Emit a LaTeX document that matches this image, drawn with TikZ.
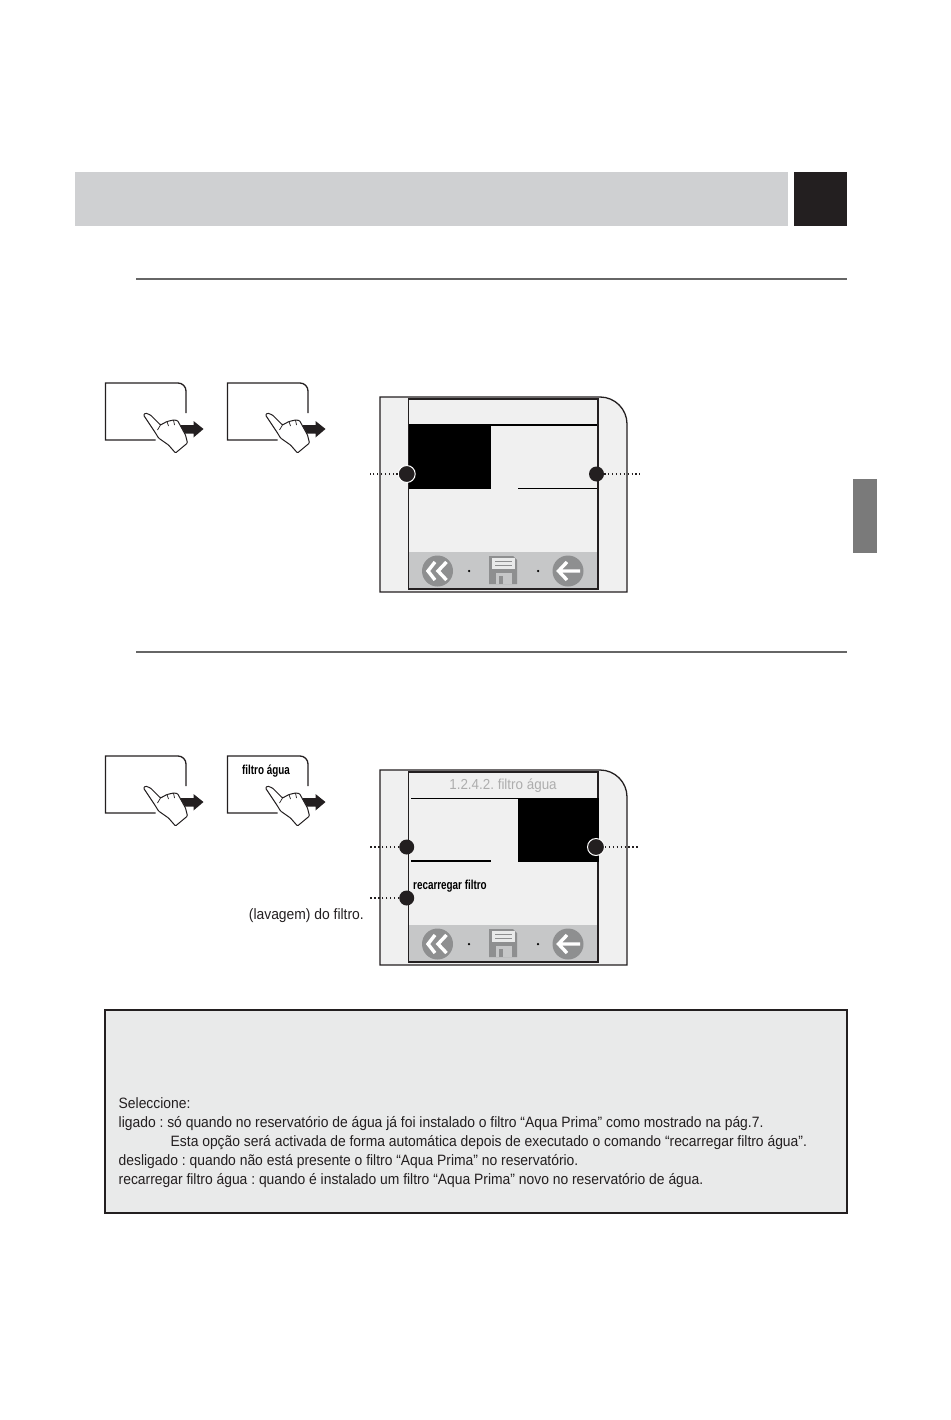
\documentclass[tikz,border=0pt]{standalone}
\usepackage{fontspec}
\setmainfont{Liberation Sans}
\newfontfamily\narrowfont[FakeStretch=0.925]{Liberation Sans}
\newfontfamily\tightfont[FakeStretch=0.76]{Liberation Sans}
\usetikzlibrary{arrows.meta,positioning}
\definecolor{headgray}{HTML}{CFD0D2}
\definecolor{inkblack}{HTML}{231F20}
\definecolor{panelgray}{HTML}{F0F0F0}
\definecolor{bargray}{HTML}{C6C7C8}
\definecolor{icongray}{HTML}{8E8F90}
\definecolor{notegray}{HTML}{E9EAEA}
\frenchspacing
\begin{document}
\begin{tikzpicture}[
  x=1pt, y=-1pt,
  frame/.style={draw=inkblack, line width=1.3pt},
  rule/.style={draw=black, line width=1.1pt},
  sep/.style={draw=black!60, line width=1.2pt},
  bullet/.style={circle, fill=inkblack, minimum size=15pt, inner sep=0pt},
  ringed/.style={bullet, draw=white, line width=1pt, minimum size=17pt},
  lead/.style={draw=inkblack, line width=1.3pt, dash pattern=on 1.3pt off 2.6pt},
  iconline/.style={draw=white, line width=3.4pt, line join=miter},
  smalldot/.style={circle, fill=black, minimum size=2.5pt, inner sep=0pt},
  touchkey/.pic={
    \draw[frame] (80.5,30) -- (80.5,8) arc[start angle=0, end angle=-90, radius=8] -- (0,0) -- (0,57) -- (50,57);
    \fill[inkblack] (75,42) -- (88,42) -- (88,38) -- (98,46) -- (88,54.5) -- (88,50.5) -- (75,50.5) -- cycle;
    \draw[draw=inkblack, line width=1pt, fill=white, rounded corners=1pt]
      (38,32) -- (40,30) -- (45,32) -- (55,42) -- (61.5,38.5) -- (68,37) -- (72,37.5)
      -- (80,52) -- (82,60) -- (70,70) -- (63,62) -- (53,55) -- (50,50) -- (42,38) -- cycle;
    \draw[draw=inkblack, line width=.7pt] (61.5,38.5) -- (63,43) (68,37) -- (69,42) (52,47) -- (55,42);
  },
  panelbody/.pic={
    \draw[frame, fill=panelgray] (0,0) -- (220,0) arc[start angle=-90, end angle=0, radius=27] -- (247,195) -- (0,195) -- cycle;
    \fill[bargray] (29,155) rectangle (218,192);
    \draw[frame] (28.5,2) rectangle (218,192);
    \fill[icongray] (57.5,174) circle[radius=15.5];
    \draw[iconline] (55,165) -- (48,174) -- (55,183) (66.5,165) -- (58,174) -- (66.5,183);
    \node[smalldot] (dotl) at (89,174) {};
    \fill[icongray] (109,159) -- (133,159) -- (137,163) -- (137,187) -- (109,187) -- cycle;
    \fill[notegray] (112,161) rectangle (135,172);
    \draw[icongray, line width=.7pt] (115,164.5) -- (132,164.5) (115,168) -- (132,168);
    \fill[bargray] (116,176) rectangle (132,187);
    \fill[icongray] (119,179) rectangle (123,187);
    \node[smalldot] (dotr) at (158,174) {};
    \fill[icongray] (188,174) circle[radius=15.5];
    \draw[iconline] (187,165) -- (178.5,174) -- (187,183) (179,174) -- (200,174);
  }
]
\useasboundingbox (0,0) rectangle (950,1420);

% page header
\fill[headgray] (75,172.5) rectangle (788,226);
\fill[inkblack] (794,172.5) rectangle (847,226);
\fill[black!52] (853,479) rectangle (877,553);
\draw[sep] (136,279) -- (847,279);
\draw[sep] (136,652) -- (847,652);

% first row
\pic (keya) at (105.5,383) {touchkey};
\pic (keyb) at (227.5,383) {touchkey};
\pic (scra) at (380,397) {panelbody};
\draw[rule] (409,425) -- (597,425);
\fill[black] (409,425) rectangle (491,489);
\draw[rule] (518,488.5) -- (597,488.5);
\node[ringed] (onl) at (406.7,474) {};
\node[bullet] (onr) at (596.5,474) {};
\coordinate (onlend) at (370,474);
\coordinate (onrend) at (640,474);
\draw[lead] (onl) -- (onlend);
\draw[lead] (onr) -- (onrend);

% second row
\pic (keyc) at (105.5,756) {touchkey};
\pic (keyd) at (227.5,756) {touchkey};
\node[font=\tightfont\bfseries\fontsize{13}{15}\selectfont] (keytxt) at (266,771) {filtro água};
\pic (scrb) at (380,770) {panelbody};
\node[font=\narrowfont\fontsize{14.5}{16}\selectfont, text=black!32] (title) at (503,786) {1.2.4.2. filtro água};
\draw[rule] (411,798.5) -- (597,798.5);
\fill[black] (518,798) rectangle (599,862);
\draw[rule] (411,861) -- (491,861);
\node[font=\tightfont\bfseries\fontsize{13}{15}\selectfont, anchor=west, inner sep=0pt] (refill) at (413,886) {recarregar filtro};
\node[bullet] (offl) at (406.7,847) {};
\node[ringed] (offr) at (596,847) {};
\node[bullet] (refl) at (406.7,898) {};
\coordinate (offlend) at (370,847);
\coordinate (offrend) at (640,847);
\coordinate (reflend) at (370,898);
\draw[lead] (offl) -- (offlend);
\draw[lead] (offr) -- (offrend);
\draw[lead] (refl) -- (reflend);
\node[font=\narrowfont\fontsize{15}{17}\selectfont, anchor=east, inner sep=0pt, text=inkblack] (wash) at (364,916) {(lavagem) do filtro.};

% note box
\node[draw=inkblack, line width=2pt, fill=notegray, minimum width=742pt, minimum height=203pt, inner sep=0pt, outer sep=0pt, anchor=north west] (note) at (105,1010) {};
\node[font=\narrowfont\fontsize{15}{19}\selectfont, align=left, anchor=north west, inner sep=0pt, text=inkblack] (notetxt) at (118.5,1097.5)
  {Seleccione:\\
   ligado : só quando no reservatório de água já foi instalado o filtro “Aqua Prima” como mostrado na pág.7.\\
   \hspace*{52pt}Esta opção será activada de forma automática depois de executado o comando “recarregar filtro água”.\\
   desligado : quando não está presente o filtro “Aqua Prima” no reservatório.\\
   recarregar filtro água : quando é instalado um filtro “Aqua Prima” novo no reservatório de água.};
\end{tikzpicture}
\end{document}
